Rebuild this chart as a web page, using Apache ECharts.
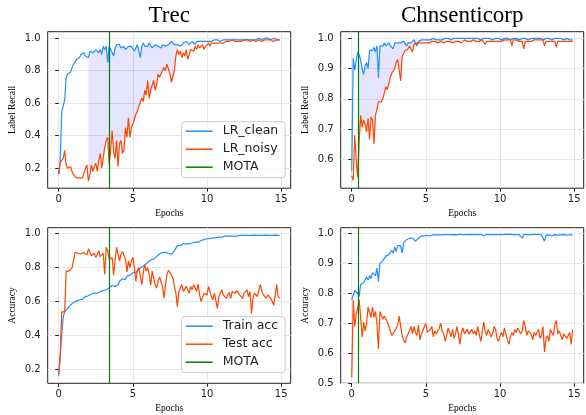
<!DOCTYPE html>
<html>
<head>
<meta charset="utf-8">
<script src="https://cdn.jsdelivr.net/npm/echarts@6/dist/echarts.min.js"></script>
<style>
  html, body { margin: 0; padding: 0; background: #fff; }
  #chart { width: 586px; height: 415px; }
</style>
</head>
<body>
<div id="chart"></div>
<script>
// epochs are sampled every 0.1 from 0.0 to 14.9
var epochStep = 0.1;
var xTicks = [0, 5, 10, 15];
var yTicksTrec = [0.2, 0.4, 0.6, 0.8, 1.0];
var yTicksChnRecall = [0.6, 0.7, 0.8, 0.9, 1.0];
var yTicksChnAcc = [0.5, 0.6, 0.7, 0.8, 0.9, 1.0];

var motaTrec = 3.4;
var motaChn = 0.45;
// index ranges of the shaded band between the two recall curves
var fillTrec = [20, 80];
var fillChn = [5, 45];

var trecClean = [
  0.16, 0.25, 0.55, 0.58, 0.62, 0.76, 0.78, 0.79, 0.79, 0.82,
  0.84, 0.85, 0.87, 0.88, 0.88, 0.90, 0.91, 0.91, 0.89, 0.88,
  0.88, 0.92, 0.92, 0.91, 0.92, 0.93, 0.92, 0.91, 0.93, 0.90,
  0.95, 0.93, 0.95, 0.85, 0.95, 0.93, 0.91, 0.89, 0.94, 0.96,
  0.95, 0.96, 0.94, 0.95, 0.95, 0.93, 0.92, 0.95, 0.96, 0.95,
  0.94, 0.92, 0.94, 0.96, 0.95, 0.88, 0.95, 0.97, 0.95, 0.94,
  0.95, 0.97, 0.96, 0.94, 0.95, 0.96, 0.97, 0.95, 0.96, 0.94,
  0.96, 0.97, 0.95, 0.94, 0.96, 0.97, 0.98, 0.97, 0.96, 0.97,
  0.96, 0.97, 0.95, 0.96, 0.97, 0.96, 0.98, 0.97, 0.96, 0.97,
  0.98, 0.97, 0.96, 0.98, 0.97, 0.98, 0.99, 0.98, 0.97, 0.98,
  0.99, 0.98, 0.99, 0.98, 0.98, 0.99, 0.98, 0.99, 0.99, 0.98,
  0.99, 0.99, 0.98, 0.99, 0.99, 0.99, 0.98, 0.99, 0.99, 0.99,
  0.99, 0.99, 0.99, 0.99, 0.99, 0.99, 0.99, 0.99, 0.99, 0.99,
  0.99, 0.99, 1.0, 0.99, 0.99, 1.0, 0.99, 0.99, 1.0, 1.0,
  0.99, 1.0, 1.0, 0.99, 0.99, 1.0, 0.99, 0.99, 0.99, 0.99
];
var trecNoisy = [
  0.17, 0.235, 0.245, 0.26, 0.31, 0.22, 0.20, 0.19, 0.21, 0.18,
  0.16, 0.17, 0.14, 0.15, 0.14, 0.14, 0.14, 0.17, 0.20, 0.22,
  0.12, 0.16, 0.22, 0.18, 0.21, 0.23, 0.18, 0.25, 0.29, 0.20,
  0.26, 0.33, 0.37, 0.39, 0.22, 0.31, 0.43, 0.30, 0.26, 0.37,
  0.21, 0.35, 0.37, 0.29, 0.31, 0.45, 0.39, 0.51, 0.39, 0.45,
  0.47, 0.48, 0.53, 0.55, 0.58, 0.59, 0.63, 0.61, 0.68, 0.65,
  0.74, 0.63, 0.68, 0.69, 0.74, 0.68, 0.71, 0.78, 0.76, 0.78,
  0.79, 0.82, 0.80, 0.84, 0.84, 0.78, 0.73, 0.74, 0.80, 0.89,
  0.93, 0.90, 0.92, 0.88, 0.91, 0.89, 0.93, 0.87, 0.90, 0.93,
  0.94, 0.92, 0.95, 0.93, 0.96, 0.94, 0.95, 0.96, 0.93, 0.95,
  0.96, 0.97, 0.95, 0.97, 0.96, 0.97, 0.98, 0.97, 0.98, 0.97,
  0.98, 0.97, 0.98, 0.98, 0.97, 0.98, 0.98, 0.99, 0.98, 0.98,
  0.99, 0.98, 0.99, 0.98, 0.99, 0.99, 0.98, 0.99, 0.99, 0.98,
  0.99, 0.99, 0.99, 0.98, 0.99, 0.99, 0.99, 0.98, 0.99, 0.99,
  0.99, 0.99, 0.98, 0.99, 0.99, 0.98, 0.99, 0.99, 0.99, 0.99
];
var chnClean = [
  0.56, 0.935, 0.895, 0.925, 0.955, 0.945, 0.93, 0.90, 0.88, 0.91,
  0.92, 0.90, 0.96, 0.965, 0.96, 0.97, 0.955, 0.975, 0.87, 0.975,
  0.98, 0.975, 0.985, 0.975, 0.97, 0.985, 0.975, 0.98, 0.965, 0.985,
  0.98, 0.985, 0.99, 0.985, 0.98, 0.99, 0.985, 0.975, 0.985, 0.99,
  0.985, 0.99, 0.995, 0.985, 0.975, 0.99, 0.995, 0.995, 0.99, 0.995,
  0.995, 0.995, 1.0, 0.995, 0.995, 1.0, 0.995, 0.995, 1.0, 0.995,
  1.0, 0.995, 1.0, 1.0, 0.995, 1.0, 1.0, 0.995, 1.0, 1.0,
  0.995, 1.0, 1.0, 1.0, 0.995, 1.0, 1.0, 1.0, 0.995, 1.0,
  1.0, 1.0, 0.995, 1.0, 1.0, 1.0, 1.0, 0.995, 1.0, 1.0,
  0.995, 1.0, 1.0, 1.0, 1.0, 0.995, 1.0, 1.0, 1.0, 1.0,
  1.0, 0.995, 1.0, 1.0, 1.0, 1.0, 1.0, 0.995, 1.0, 1.0,
  1.0, 1.0, 1.0, 0.995, 1.0, 1.0, 1.0, 1.0, 1.0, 0.995,
  1.0, 1.0, 1.0, 1.0, 1.0, 1.0, 1.0, 1.0, 1.0, 0.995,
  0.99, 1.0, 1.0, 1.0, 1.0, 0.995, 1.0, 1.0, 0.995, 1.0,
  1.0, 1.0, 1.0, 0.995, 1.0, 1.0, 1.0, 0.995, 1.0, 0.995
];
var chnNoisy = [
  0.545, 0.53, 0.68, 0.60, 0.54, 0.66, 0.745, 0.705, 0.73, 0.715,
  0.69, 0.735, 0.665, 0.74, 0.73, 0.65, 0.745, 0.765, 0.79, 0.795,
  0.79, 0.80, 0.82, 0.84, 0.83, 0.85, 0.87, 0.885, 0.89, 0.90,
  0.92, 0.93, 0.925, 0.86, 0.94, 0.95, 0.96, 0.955, 0.965, 0.975,
  0.965, 0.955, 0.98, 0.98, 0.985, 0.98, 0.985, 0.99, 0.985, 0.99,
  0.985, 0.99, 0.985, 0.99, 0.99, 0.985, 0.99, 0.99, 0.985, 0.99,
  0.99, 0.99, 0.985, 0.99, 0.99, 0.995, 0.99, 0.99, 0.985, 0.99,
  0.99, 0.995, 0.99, 0.99, 0.985, 0.99, 0.995, 0.99, 0.99, 0.995,
  0.99, 0.99, 0.995, 0.99, 0.99, 0.995, 0.99, 0.99, 0.995, 0.99,
  0.98, 0.99, 0.995, 0.99, 0.995, 0.99, 0.995, 0.99, 0.995, 0.99,
  0.995, 0.99, 0.995, 0.995, 0.99, 0.995, 0.99, 0.995, 0.975, 0.995,
  0.99, 0.995, 0.995, 0.99, 0.995, 0.99, 0.965, 0.99, 0.995, 0.99,
  0.995, 0.99, 0.995, 0.995, 0.99, 0.995, 0.99, 0.995, 0.99, 0.995,
  0.975, 0.99, 0.995, 0.99, 0.995, 0.99, 0.995, 0.99, 0.97, 0.99,
  0.995, 0.99, 0.995, 0.99, 0.995, 0.99, 0.995, 0.99, 0.99, 0.99
];
var trecTrain = [
  0.165, 0.28, 0.41, 0.51, 0.54, 0.55, 0.56, 0.57, 0.58, 0.59,
  0.595, 0.60, 0.605, 0.61, 0.61, 0.62, 0.615, 0.625, 0.63, 0.625,
  0.635, 0.64, 0.645, 0.64, 0.65, 0.655, 0.65, 0.655, 0.66, 0.655,
  0.665, 0.66, 0.67, 0.675, 0.68, 0.685, 0.695, 0.705, 0.69, 0.70,
  0.70, 0.72, 0.715, 0.735, 0.745, 0.73, 0.75, 0.76, 0.755, 0.765,
  0.77, 0.775, 0.77, 0.78, 0.79, 0.80, 0.805, 0.80, 0.815, 0.825,
  0.83, 0.835, 0.845, 0.845, 0.85, 0.86, 0.865, 0.87, 0.88, 0.885,
  0.89, 0.895, 0.89, 0.895, 0.885, 0.875, 0.88, 0.885, 0.90, 0.915,
  0.93, 0.935, 0.93, 0.935, 0.94, 0.935, 0.94, 0.945, 0.94, 0.935,
  0.945, 0.94, 0.95, 0.955, 0.95, 0.955, 0.96, 0.96, 0.965, 0.965,
  0.97, 0.965, 0.97, 0.97, 0.975, 0.97, 0.975, 0.975, 0.98, 0.975,
  0.98, 0.98, 0.985, 0.98, 0.985, 0.985, 0.985, 0.985, 0.985, 0.985,
  0.985, 0.985, 0.99, 0.985, 0.99, 0.99, 0.99, 0.99, 0.99, 0.99,
  0.99, 0.99, 0.991, 0.99, 0.99, 0.991, 0.99, 0.991, 0.99, 0.99,
  0.991, 0.99, 0.99, 0.991, 0.99, 0.99, 0.991, 0.99, 0.99, 0.99
];
var trecTest = [
  0.175, 0.29, 0.54, 0.54, 0.54, 0.78, 0.785, 0.78, 0.79, 0.80,
  0.81, 0.89, 0.90, 0.885, 0.875, 0.88, 0.87, 0.89, 0.90, 0.875,
  0.91, 0.89, 0.87, 0.875, 0.885, 0.86, 0.87, 0.90, 0.865, 0.86,
  0.885, 0.76, 0.92, 0.90, 0.85, 0.85, 0.86, 0.755, 0.84, 0.92,
  0.91, 0.84, 0.88, 0.895, 0.87, 0.85, 0.775, 0.84, 0.80, 0.84,
  0.86, 0.80, 0.72, 0.785, 0.80, 0.81, 0.70, 0.77, 0.82, 0.78,
  0.80, 0.76, 0.695, 0.78, 0.74, 0.70, 0.68, 0.72, 0.745, 0.75,
  0.69, 0.62, 0.70, 0.76, 0.785, 0.77, 0.78, 0.74, 0.69, 0.65,
  0.57, 0.66, 0.68, 0.70, 0.66, 0.67, 0.69, 0.68, 0.65, 0.69,
  0.67, 0.70, 0.68, 0.66, 0.705, 0.64, 0.60, 0.59, 0.65, 0.66,
  0.64, 0.69, 0.66, 0.63, 0.61, 0.65, 0.655, 0.56, 0.63, 0.65,
  0.67, 0.64, 0.64, 0.62, 0.64, 0.655, 0.62, 0.66, 0.67, 0.65,
  0.665, 0.655, 0.64, 0.63, 0.62, 0.65, 0.64, 0.67, 0.63, 0.66,
  0.53, 0.62, 0.65, 0.66, 0.63, 0.67, 0.70, 0.66, 0.64, 0.645,
  0.62, 0.64, 0.63, 0.62, 0.60, 0.58, 0.57, 0.70, 0.63, 0.62
];
var chnTrain = [
  0.78, 0.785, 0.81, 0.805, 0.80, 0.79, 0.83, 0.825, 0.835, 0.84,
  0.855, 0.845, 0.86, 0.85, 0.87, 0.875, 0.86, 0.885, 0.84, 0.90,
  0.905, 0.91, 0.915, 0.925, 0.92, 0.93, 0.93, 0.945, 0.935, 0.955,
  0.94, 0.96, 0.965, 0.96, 0.935, 0.97, 0.975, 0.98, 0.975, 0.985,
  0.99, 0.985, 0.98, 0.975, 0.98, 0.985, 0.99, 0.992, 0.993, 0.993,
  0.995, 0.994, 0.995, 0.993, 0.995, 0.996, 0.995, 0.996, 0.997, 0.996,
  0.997, 0.996, 0.997, 0.997, 0.995, 0.997, 0.997, 0.996, 0.997, 0.997,
  0.997, 0.996, 0.997, 0.998, 0.997, 0.997, 0.995, 0.997, 0.998, 0.997,
  0.997, 0.998, 0.997, 0.997, 0.998, 0.997, 0.997, 0.998, 0.997, 0.992,
  0.997, 0.998, 0.997, 0.997, 0.998, 0.997, 0.998, 0.997, 0.998, 0.997,
  0.998, 0.997, 0.997, 0.998, 0.997, 0.998, 0.997, 0.998, 0.994, 0.997,
  0.998, 0.997, 0.998, 0.997, 0.996, 0.985, 0.997, 0.998, 0.997, 0.998,
  0.997, 0.998, 0.997, 0.997, 0.998, 0.997, 0.998, 0.997, 0.996, 0.995,
  0.975, 0.995, 0.997, 0.996, 0.997, 0.993, 0.988, 0.997, 0.996, 0.995,
  0.997, 0.996, 0.997, 0.997, 0.996, 0.995, 0.997, 0.996, 0.995, 0.996
];
var chnTest = [
  0.52, 0.78, 0.69, 0.73, 0.75, 0.78, 0.72, 0.655, 0.705, 0.675,
  0.70, 0.755, 0.76, 0.72, 0.755, 0.72, 0.74, 0.70, 0.615, 0.74,
  0.74, 0.715, 0.725, 0.73, 0.705, 0.69, 0.695, 0.66, 0.665, 0.675,
  0.685, 0.695, 0.725, 0.69, 0.66, 0.645, 0.635, 0.655, 0.665, 0.66,
  0.69, 0.665, 0.69, 0.67, 0.66, 0.695, 0.645, 0.665, 0.675, 0.69,
  0.70, 0.67, 0.665, 0.68, 0.69, 0.655, 0.675, 0.665, 0.66, 0.685,
  0.70, 0.675, 0.665, 0.64, 0.66, 0.685, 0.67, 0.655, 0.68, 0.65,
  0.665, 0.69, 0.66, 0.63, 0.67, 0.685, 0.665, 0.66, 0.68, 0.665,
  0.67, 0.68, 0.665, 0.675, 0.66, 0.69, 0.665, 0.64, 0.67, 0.705,
  0.675, 0.66, 0.68, 0.67, 0.655, 0.665, 0.69, 0.68, 0.65, 0.64,
  0.66, 0.67, 0.655, 0.685, 0.665, 0.645, 0.63, 0.655, 0.67, 0.66,
  0.68, 0.67, 0.685, 0.69, 0.665, 0.675, 0.71, 0.69, 0.66, 0.675,
  0.68, 0.665, 0.645, 0.67, 0.66, 0.655, 0.68, 0.65, 0.66, 0.69,
  0.605, 0.65, 0.66, 0.64, 0.68, 0.67, 0.66, 0.695, 0.71, 0.665,
  0.675, 0.66, 0.645, 0.665, 0.66, 0.65, 0.645, 0.67, 0.63, 0.68
];

var BLUE = '#1e90ff';
var ORANGE = '#ff4500';
var GREEN = '#008000';
var FILL = 'rgba(0, 0, 255, 0.1)';
var SERIF = '"Liberation Serif", "DejaVu Serif", serif';
var SANS = '"DejaVu Sans", sans-serif';

function epochAt(i) {
  return Math.round(i * epochStep * 10) / 10;
}
function pairs(vals) {
  return vals.map(function (v, i) { return [epochAt(i), v]; });
}

var panels = [
  { left: 47.7, top: 31.7, height: 156.5, ymin: 0.077, ymax: 1.04, yTicks: yTicksTrec,
    yName: 'Label Recall', blue: trecClean, orange: trecNoisy,
    names: ['LR_clean', 'LR_noisy'], mota: motaTrec, fill: fillTrec },
  { left: 340.7, top: 31.7, height: 156.5, ymin: 0.504, ymax: 1.022, yTicks: yTicksChnRecall,
    yName: 'Label Recall', blue: chnClean, orange: chnNoisy,
    names: ['LR_clean', 'LR_noisy'], mota: motaChn, fill: fillChn },
  { left: 47.7, top: 227.7, height: 155.6, ymin: 0.12, ymax: 1.035, yTicks: yTicksTrec,
    yName: 'Accuracy', blue: trecTrain, orange: trecTest,
    names: ['Train acc', 'Test acc'], mota: motaTrec, fill: null },
  { left: 340.7, top: 227.7, height: 155.6, ymin: 0.5, ymax: 1.02, yTicks: yTicksChnAcc,
    yName: 'Accuracy', blue: chnTrain, orange: chnTest,
    names: ['Train acc', 'Test acc'], mota: motaChn, fill: null }
];

var grids = [], xAxes = [], yAxes = [], series = [];

// shaded band between the two curves, drawn as one polygon through the axis scales
function bandRenderer(p) {
  return function (params, api) {
    var pts = [], i;
    for (i = p.fill[0]; i <= p.fill[1]; i++) {
      pts.push(api.coord([epochAt(i), p.blue[i]]));
    }
    for (i = p.fill[1]; i >= p.fill[0]; i--) {
      pts.push(api.coord([epochAt(i), p.orange[i]]));
    }
    return { type: 'polygon', shape: { points: pts }, style: { fill: FILL }, silent: true };
  };
}

panels.forEach(function (p, k) {
  grids.push({
    left: p.left, top: p.top, width: 243, height: p.height,
    show: true, borderColor: '#222', borderWidth: 1, backgroundColor: 'transparent'
  });
  xAxes.push({
    type: 'value', gridIndex: k, min: -0.745, max: 15.645,
    name: 'Epochs', nameLocation: 'middle', nameGap: 20,
    nameTextStyle: { fontFamily: SERIF, fontSize: 9.5, color: '#000' },
    axisLine: { show: false },
    axisTick: { show: true, inside: false, length: 3.5, lineStyle: { color: '#222' }, customValues: xTicks },
    axisLabel: { customValues: xTicks, margin: 6, fontFamily: SANS, fontSize: 10, color: '#222' },
    splitLine: { show: true, lineStyle: { color: '#e6e6e6', width: 1 } }
  });
  yAxes.push({
    type: 'value', gridIndex: k, min: p.ymin, max: p.ymax,
    name: p.yName, nameLocation: 'middle', nameGap: 30,
    nameTextStyle: { fontFamily: SERIF, fontSize: 9.5, color: '#000' },
    axisLine: { show: false },
    axisTick: { show: true, inside: false, length: 3.5, lineStyle: { color: '#222' }, customValues: p.yTicks },
    axisLabel: {
      customValues: p.yTicks, margin: 7, fontFamily: SANS, fontSize: 10, color: '#222',
      formatter: function (v) { return v.toFixed(1); }
    },
    splitLine: { show: true, lineStyle: { color: '#e6e6e6', width: 1 } }
  });

  if (p.fill) {
    series.push({
      type: 'custom', name: 'band ' + k, xAxisIndex: k, yAxisIndex: k,
      coordinateSystem: 'cartesian2d', silent: true, z: 1,
      data: [[epochAt(p.fill[0]), p.orange[p.fill[0]]]],
      renderItem: bandRenderer(p)
    });
  }

  series.push({
    type: 'line', name: p.names[0], xAxisIndex: k, yAxisIndex: k,
    data: pairs(p.blue), symbol: 'none', z: 3,
    itemStyle: { color: BLUE }, lineStyle: { color: BLUE, width: 1.2 }
  });
  series.push({
    type: 'line', name: p.names[1], xAxisIndex: k, yAxisIndex: k,
    data: pairs(p.orange), symbol: 'none', z: 3,
    itemStyle: { color: ORANGE }, lineStyle: { color: ORANGE, width: 1.2 }
  });
  series.push({
    type: 'line', name: 'MOTA', xAxisIndex: k, yAxisIndex: k,
    data: [], symbol: 'none', z: 4,
    itemStyle: { color: GREEN }, lineStyle: { color: GREEN, width: 1.2 },
    markLine: {
      silent: true, symbol: ['none', 'none'], label: { show: false },
      lineStyle: { color: GREEN, width: 1.2, type: 'solid' },
      data: [{ xAxis: p.mota }]
    }
  });
});

function legendAt(left, top, names) {
  return {
    left: left, top: top, orient: 'vertical', data: names, selectedMode: false,
    icon: 'path://M0,0L27,0L27,1.5L0,1.5Z',
    itemWidth: 27, itemHeight: 14, itemGap: 5,
    padding: [3, 7, 4, 4],
    backgroundColor: 'rgba(255,255,255,0.8)', borderColor: '#cccccc', borderWidth: 1, borderRadius: 3,
    textStyle: { fontFamily: SANS, fontSize: 12.5, color: '#222', padding: [0, 0, 0, 5] }
  };
}

var chart = echarts.init(document.getElementById('chart'), null, { renderer: 'canvas' });
chart.setOption({
  animation: false,
  backgroundColor: '#fff',
  grid: grids,
  xAxis: xAxes,
  yAxis: yAxes,
  legend: [
    legendAt(181.7, 121.7, ['LR_clean', 'LR_noisy', 'MOTA']),
    legendAt(181.7, 316.7, ['Train acc', 'Test acc', 'MOTA'])
  ],
  graphic: [
    { type: 'text', x: 169.2, y: 16, silent: true,
      style: { text: 'Trec', align: 'center', verticalAlign: 'middle', fontFamily: SERIF, fontSize: 23, fill: '#000' } },
    { type: 'text', x: 462.2, y: 16, silent: true,
      style: { text: 'Chnsenticorp', align: 'center', verticalAlign: 'middle', fontFamily: SERIF, fontSize: 23, fill: '#000' } }
  ],
  series: series
});
</script>
</body>
</html>
